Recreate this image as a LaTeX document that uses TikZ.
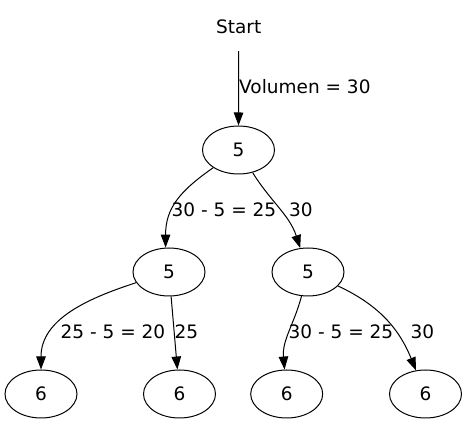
\documentclass[tikz,border=0pt]{standalone}
\usepackage{fontspec}
\setmainfont{DejaVu Sans}
\usetikzlibrary{arrows.meta,shapes.geometric}

\begin{document}
\begin{tikzpicture}[x=1pt,y=-1pt,
    font=\fontsize{18.5}{20}\selectfont,
    knoten/.style={draw,ellipse,line width=1pt,minimum width=72pt,minimum height=48pt,inner sep=0pt},
    kante/.style={-{Triangle[length=13pt,width=9.5pt]},line width=1pt}]
          \useasboundingbox (0,0) rectangle (467,427);

          \node[minimum height=48pt] (start) at (238.7,27) {Start};
          \node[knoten] (root) at (238.5,150) {5};

          \node[knoten] (l) at (169,272) {5};
          \node[knoten] (r) at (308,272) {5};

          \node[knoten] (ll) at (41,394) {6};
          \node[knoten] (lr) at (179.5,394) {6};
          \node[knoten] (rl) at (286.7,394) {6};
          \node[knoten] (rr) at (425.5,394) {6};

          \draw[kante] (start) -- (root);
          \draw[kante] (root) to[out=-145,in=90,looseness=1.1] (l.98);
          \draw[kante] (root) to[out=-58,in=108] (r);
          \draw[kante] (l) to[out=198,in=90] (ll);
          \draw[kante] (l) -- (lr);
          \draw[kante] (r) to[out=-105,in=95] (rl);
          \draw[kante] (r) to[out=-25,in=112] (rr);

          \node[anchor=west,inner sep=0pt] (v) at (239,87) {Volumen = 30};
          \node[inner sep=0pt] (a) at (224,210) {30 - 5 = 25};
          \node[inner sep=0pt] (b) at (301,210) {30};
          \node[inner sep=0pt] (c) at (113,332) {25 - 5 = 20};
          \node[inner sep=0pt] (d) at (186.5,332) {25};
          \node[inner sep=0pt] (e) at (341,332) {30 - 5 = 25};
          \node[inner sep=0pt] (f) at (422.5,332) {30};
        \end{tikzpicture}
\end{document}
